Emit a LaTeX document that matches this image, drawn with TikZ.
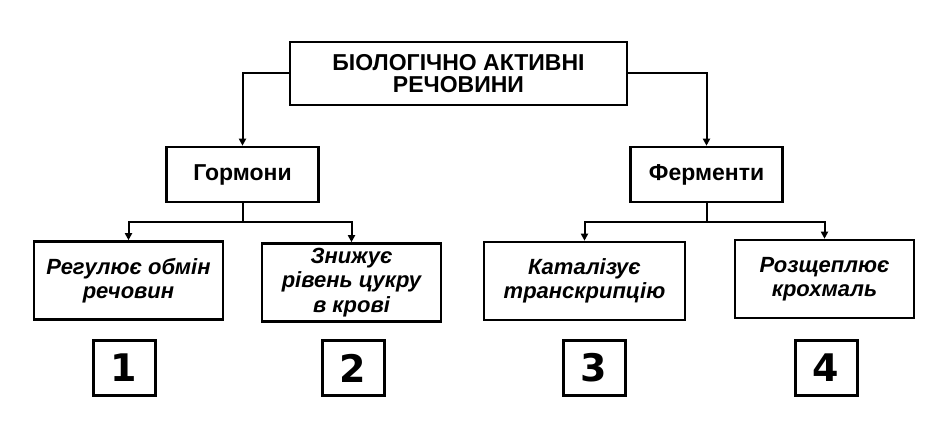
\documentclass[tikz,border=0pt]{standalone}
\usepackage{fontspec}
\setmainfont{Liberation Sans}
\newfontfamily\numfont{DejaVu Sans}
\usetikzlibrary{arrows.meta,positioning}
\tikzset{
  titlebox/.style={
    draw,
    line width=2.6pt,
    align=center,
    inner sep=0pt,
    minimum width=337pt,
    minimum height=63pt,
    font=\fontsize{23}{22}\selectfont\bfseries
  },
  groupbox/.style={
    draw,
    line width=2.6pt,
    align=center,
    inner sep=0pt,
    minimum width=152pt,
    minimum height=55pt,
    font=\fontsize{23}{22}\selectfont\bfseries
  },
  rolebox/.style={
    draw,
    line width=2.6pt,
    align=center,
    inner sep=0pt,
    minimum height=78pt,
    font=\fontsize{22}{24.5}\selectfont\bfseries\itshape
  },
  numbox/.style={
    draw,
    line width=3pt,
    inner sep=0pt,
    minimum width=62pt,
    minimum height=55pt,
    font=\fontsize{38}{40}\selectfont\numfont\bfseries
  },
  conn/.style={draw, line width=2pt},
  arr/.style={draw, line width=2pt, -{Triangle[length=7pt,width=7pt]}}
}
\begin{document}
\begin{tikzpicture}[x=1pt,y=1pt]
  \useasboundingbox (0,0) rectangle (940,-441);

  \node[titlebox] (bav) at (458.5,-73.5) {БІОЛОГІЧНО АКТИВНІ\\РЕЧОВИНИ};

  \node[groupbox] (horm) at (242.5,-174.5) {Гормони};
  \node[groupbox] (ferm) at (706.5,-174.5) {Ферменти};

  \node[rolebox, minimum width=189pt] (metab) at (128.5,-280.5) {Регулює обмін\\речовин};
  \node[rolebox, minimum width=179pt] (sugar) at (351.5,-282.5) {Знижує\\рівень цукру\\в крові};
  \node[rolebox, minimum width=201pt] (trans) at (584.5,-281) {Каталізує\\транскрипцію};
  \node[rolebox, minimum width=179pt] (starch) at (824.5,-279) {Розщеплює\\крохмаль};

  \node[numbox] (n1) at (124,-368) {1};
  \node[numbox] (n2) at (353,-368) {2};
  \node[numbox] (n3) at (594,-368) {3};
  \node[numbox] (n4) at (826,-368) {4};

  % from the title down to the two groups
  \draw[arr] (bav.west) -| (horm.north);
  \draw[arr] (bav.east) -| (ferm.north);

  % hormones
  \draw[conn] (horm.south) -- ++(0,-19) coordinate (hj);
  \draw[arr] (hj) -| (metab.north);
  \draw[arr] (hj) -| (sugar.north);

  % enzymes
  \draw[conn] (ferm.south) -- ++(0,-19) coordinate (fj);
  \draw[arr] (fj) -| (trans.north);
  \draw[arr] (fj) -| (starch.north);
\end{tikzpicture}
\end{document}
